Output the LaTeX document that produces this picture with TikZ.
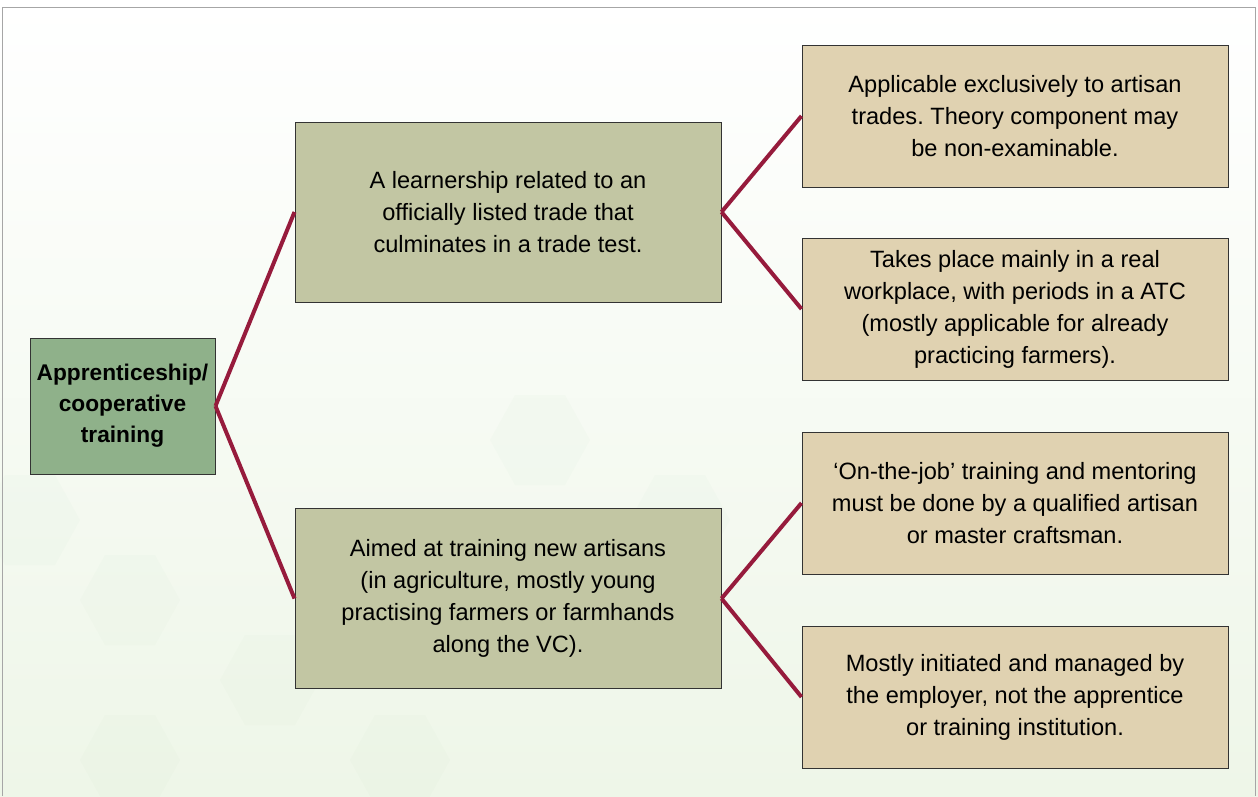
\documentclass[tikz,border=0pt]{standalone}
\usepackage{fontspec}
\setmainfont{Liberation Sans}
\usetikzlibrary{positioning}
\frenchspacing

\definecolor{rootgreen}{HTML}{8FB18A}
\definecolor{midolive}{HTML}{C2C6A3}
\definecolor{leaftan}{HTML}{E0D2B1}
\definecolor{linkred}{HTML}{961B3C}
\definecolor{paleground}{HTML}{EEF6E8}

\begin{document}
\begin{tikzpicture}[x=1pt,y=-1pt,
  rootbox/.style={draw=black!80, line width=1pt, fill=rootgreen, minimum width=185pt, minimum height=136pt, align=center, inner sep=0pt, font=\fontsize{22.7}{31}\selectfont\bfseries},
  midbox/.style={draw=black!80, line width=1pt, fill=midolive, minimum width=426pt, minimum height=180pt, align=center, inner sep=0pt, font=\fontsize{23.6}{32}\selectfont},
  leafbox/.style={draw=black!80, line width=1pt, fill=leaftan, minimum width=426pt, minimum height=142pt, align=center, inner sep=0pt, font=\fontsize{23.6}{32}\selectfont},
  link/.style={draw=linkred, line width=4pt}]

\useasboundingbox (0,0) rectangle (1258,796);

% Background
\shade[top color=white, bottom color=paleground] (0,0) rectangle (1258,796);
\foreach \cx/\cy in {130/600, 130/760, 270/680, 400/760, 540/600, 540/440, 680/520, 30/520}
  \fill[green!30!gray, opacity=0.02] (\cx,\cy) +(-50,0) -- +(-25,-45) -- +(25,-45) -- +(50,0) -- +(25,45) -- +(-25,45) -- cycle;
\draw[gray!70, line width=1.5pt] (2.5,796) -- (2.5,7.5) -- (1255.5,7.5) -- (1255.5,796);

% Nodes
\node[rootbox] (root) at (122.5,406) {Apprenticeship/\\cooperative\\training};

\node[midbox] (trade) at (508,212) {A learnership related to an\\officially listed trade that\\culminates in a trade test.};
\node[midbox] (aimed) at (508,598.5) {Aimed at training new artisans\\(in agriculture, mostly young\\practising farmers or farmhands\\along the VC).};

\node[leafbox] (artisan) at (1015,116) {Applicable exclusively to artisan\\trades. Theory component may\\be non-examinable.};
\node[leafbox] (workplace) at (1015,309) {Takes place mainly in a real\\workplace, with periods in a ATC\\(mostly applicable for already\\practicing farmers).};
\node[leafbox] (mentor) at (1015,503) {‘On-the-job’ training and mentoring\\must be done by a qualified artisan\\or master craftsman.};
\node[leafbox] (employer) at (1015,697) {Mostly initiated and managed by\\the employer, not the apprentice\\or training institution.};

% Connectors
\draw[link] (root.east) -- (trade.west);
\draw[link] (root.east) -- (aimed.west);
\draw[link] (trade.east) -- (artisan.west);
\draw[link] (trade.east) -- (workplace.west);
\draw[link] (aimed.east) -- (mentor.west);
\draw[link] (aimed.east) -- (employer.west);

\end{tikzpicture}
\end{document}
